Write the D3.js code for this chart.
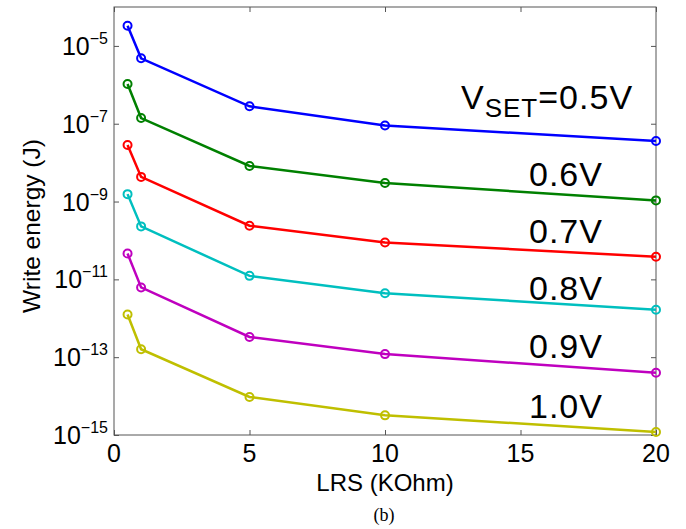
<!DOCTYPE html>
<html>
<head>
<meta charset="utf-8">
<script src="https://cdn.jsdelivr.net/npm/d3@7"></script>
<style>
body { margin: 0; background: #fff; }
svg text { font-family: "Liberation Sans", Arial, sans-serif; fill: #000; }
</style>
</head>
<body>
<div id="chart"></div>
<script>
const width = 686;
const height = 529;
const margin = { top: 7, right: 30, bottom: 94, left: 114 };

// data: LRS (KOhm) vs write energy (J) for each V_SET
const lrs = [0.5, 1, 5, 10, 20];
const vset = ["0.5V", "0.6V", "0.7V", "0.8V", "0.9V", "1.0V"];
const colors = ["#0000ff", "#008000", "#ff0000", "#00bfbf", "#bf00bf", "#bfbf00"];
const e05 = [3.3e-5, 4.8e-6, 2.8e-7, 9.0e-8, 3.6e-8];
const e06 = [1.05e-6, 1.4e-7, 8.2e-9, 3.0e-9, 1.07e-9];
const e07 = [2.85e-8, 4.3e-9, 2.4e-10, 8.9e-11, 3.8e-11];
const e08 = [1.55e-9, 2.3e-10, 1.23e-11, 4.4e-12, 1.66e-12];
const e09 = [4.6e-11, 6.2e-12, 3.3e-13, 1.2e-13, 4.0e-14];
const e10 = [1.25e-12, 1.6e-13, 9.5e-15, 3.2e-15, 1.2e-15];
const series = [e05, e06, e07, e08, e09, e10];
const xTicks = [0, 5, 10, 15, 20];
const yTickExp = [-5, -7, -9, -11, -13, -15];

const iw = width - margin.left - margin.right;
const ih = height - margin.top - margin.bottom;

const x = d3.scaleLinear().domain([0, 20]).range([0, iw]);
const y = d3.scaleLog().domain([1e-15, 1e-4]).range([ih, 0]);

const svg = d3.select("#chart").append("svg")
    .attr("width", width)
    .attr("height", height);

const g = svg.append("g")
    .attr("transform", `translate(${margin.left},${margin.top})`);

const axisColor = "#555";

// ticks (inward, mirrored on all sides)
const yVals = yTickExp.map(e => Math.pow(10, e));
const styleAxis = sel => {
    sel.select(".domain").remove();
    sel.selectAll(".tick line").attr("stroke", axisColor);
};
g.append("g").call(d3.axisLeft(y).tickValues(yVals).tickSize(-5).tickFormat(() => "")).call(styleAxis);
g.append("g").attr("transform", `translate(${iw},0)`)
    .call(d3.axisRight(y).tickValues(yVals).tickSize(-5).tickFormat(() => "")).call(styleAxis);
g.append("g").attr("transform", `translate(0,${ih})`)
    .call(d3.axisBottom(x).tickValues(xTicks).tickSize(-5).tickFormat(() => "")).call(styleAxis);
g.append("g")
    .call(d3.axisTop(x).tickValues(xTicks).tickSize(-5).tickFormat(() => "")).call(styleAxis);

g.append("rect")
    .attr("width", iw)
    .attr("height", ih)
    .attr("fill", "none")
    .attr("stroke", axisColor)
    .attr("stroke-width", 1);

// y tick labels 10^n
const yl = g.selectAll(".ylab").data(yTickExp).join("text")
    .attr("class", "ylab")
    .attr("text-anchor", "end")
    .attr("x", -6)
    .attr("y", d => y(Math.pow(10, d)) + 9)
    .style("font-size", "25px");
yl.append("tspan").text("10");
yl.append("tspan")
    .attr("dy", -11)
    .style("font-size", "16px")
    .text(d => "\u2212" + Math.abs(d));

// x tick labels
g.selectAll(".xlab").data(xTicks).join("text")
    .attr("class", "xlab")
    .attr("text-anchor", "middle")
    .attr("x", d => x(d))
    .attr("y", ih + 27)
    .style("font-size", "25px")
    .text(d => d);

// axis titles
g.append("text")
    .attr("text-anchor", "middle")
    .attr("x", iw / 2)
    .attr("y", ih + 56)
    .style("font-size", "24px")
    .text("LRS (KOhm)");

g.append("text")
    .attr("text-anchor", "middle")
    .attr("transform", `translate(${-74},${ih / 2 + 5}) rotate(-90)`)
    .style("font-size", "24.5px")
    .text("Write energy (J)");

svg.append("text")
    .attr("text-anchor", "middle")
    .attr("x", 384)
    .attr("y", 521)
    .style("font-family", "'Liberation Serif', 'Times New Roman', serif")
    .style("font-size", "18px")
    .text("(b)");

// lines and markers
const line = d3.line()
    .x((d, i) => x(lrs[i]))
    .y(d => y(d));

series.forEach((s, k) => {
    g.append("path")
        .datum(s)
        .attr("fill", "none")
        .attr("stroke", colors[k])
        .attr("stroke-width", 2.5)
        .attr("d", line);
    g.selectAll(null).data(s).join("circle")
        .attr("cx", (d, i) => x(lrs[i]))
        .attr("cy", d => y(d))
        .attr("r", 4)
        .attr("fill", "none")
        .attr("stroke", colors[k])
        .attr("stroke-width", 2);
});

// series labels
const labelY = [109, 186, 243, 300, 358, 418];
const lab0 = svg.append("text")
    .attr("x", 461)
    .attr("y", labelY[0])
    .style("font-size", "34px")
    .style("letter-spacing", "1px");
lab0.append("tspan").text("V");
lab0.append("tspan").attr("dy", 8).style("font-size", "26px").text("SET");
lab0.append("tspan").attr("dy", -8).text("=" + vset[0]);

svg.selectAll(".vlab").data(vset.slice(1)).join("text")
    .attr("class", "vlab")
    .attr("x", 529)
    .attr("y", (d, i) => labelY[i + 1])
    .style("font-size", "34px")
    .style("letter-spacing", "1px")
    .text(d => d);
</script>
</body>
</html>
